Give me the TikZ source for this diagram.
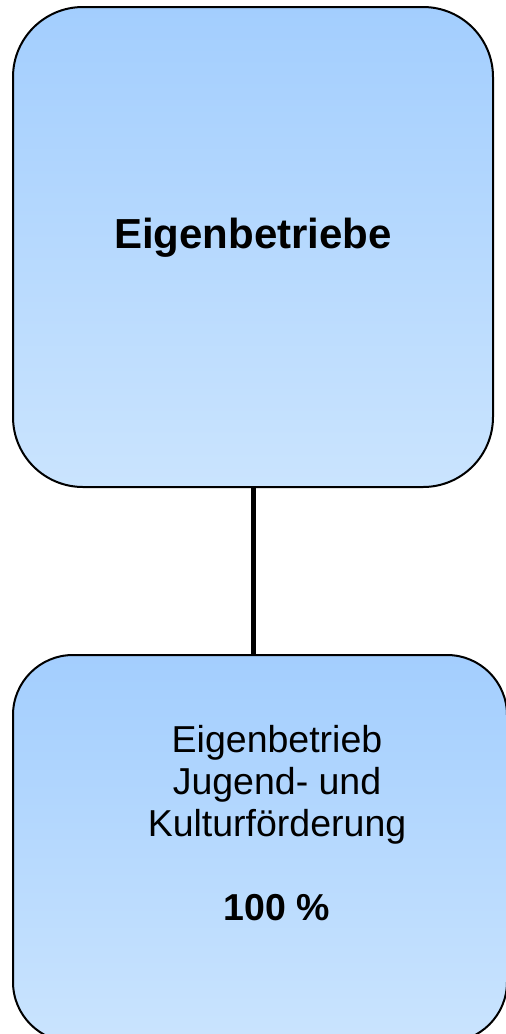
\documentclass[tikz,border=0pt]{standalone}
\usepackage{fontspec}
\setmainfont{Liberation Sans}
\begin{document}
\begin{tikzpicture}[x=1pt,y=-1pt,
  orgbox/.style={draw=black, line width=2pt, top color=boxtop, bottom color=boxbot},
  link/.style={draw=black, line width=5pt}]
\definecolor{boxtop}{HTML}{A3CEFE}
\definecolor{boxbot}{HTML}{CAE4FE}
\useasboundingbox (0,0) rectangle (506,1034);
\begin{scope}
\clip (0,0) rectangle (506,1034);
\path[orgbox, rounded corners=70pt] (13,7) rectangle (493,487);
\path[orgbox, rounded corners=60pt] (13,655) rectangle (507,1042);
\end{scope}
\node[font=\fontsize{42}{50}\selectfont\bfseries, anchor=base] (top) at (253,248) {Eigenbetriebe};
\coordinate (topb) at (253,487);
\coordinate (botb) at (253,655);
\draw[link] (topb) -- (botb);
\node[align=center, font=\fontsize{37.5}{42}\selectfont, anchor=base] (bot) at (277,920)
  {Eigenbetrieb\\Jugend- und\\Kulturförderung\\[42pt]{\bfseries 100 \%}};
\end{tikzpicture}
\end{document}
